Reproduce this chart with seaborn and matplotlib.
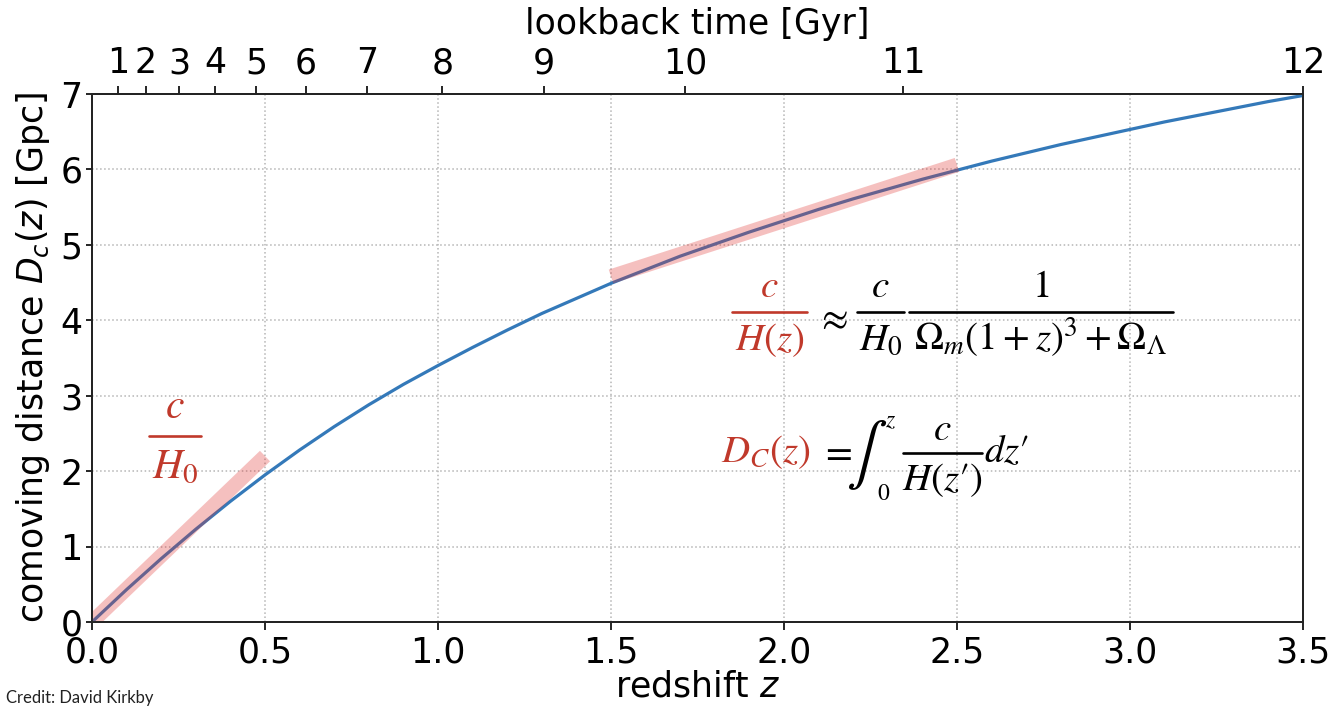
import numpy as np
import pandas as pd
import matplotlib
matplotlib.use("Agg")
import matplotlib.pyplot as plt
from matplotlib.lines import Line2D
import seaborn as sns

# ---- data ----
redshift = [0.0, 0.1, 0.2, 0.3, 0.4, 0.5, 0.6, 0.7, 0.8, 0.9, 1.0, 1.1, 1.2, 1.3, 1.4,
            1.5, 1.6, 1.7, 1.8, 1.9, 2.0, 2.1, 2.2, 2.3, 2.4, 2.5, 2.6, 2.7, 2.8, 2.9,
            3.0, 3.1, 3.2, 3.3, 3.4, 3.5]
comoving_gpc = [0.0, 0.43, 0.84, 1.23, 1.60, 1.95, 2.28, 2.59, 2.88, 3.15, 3.40, 3.64,
                3.87, 4.09, 4.29, 4.49, 4.67, 4.85, 5.01, 5.17, 5.32, 5.47, 5.61, 5.74,
                5.87, 5.99, 6.11, 6.22, 6.33, 6.43, 6.53, 6.63, 6.72, 6.81, 6.90, 6.98]
tangent_low_z = [0.0, 0.5]
tangent_low_d = [0.0, 2.2]
tangent_mid_z = [1.5, 2.5]
tangent_mid_d = [4.58, 6.06]
lookback_gyr = [1, 2, 3, 4, 5, 6, 7, 8, 9, 10, 11, 12]
lookback_tick_z = [0.075, 0.156, 0.252, 0.356, 0.474, 0.618, 0.795, 1.013, 1.305,
                   1.714, 2.344, 3.5]
z_ticks = [0.0, 0.5, 1.0, 1.5, 2.0, 2.5, 3.0, 3.5]
d_ticks = [0, 1, 2, 3, 4, 5, 6, 7]

sns.set_style("white")
plt.rcParams['font.family'] = ['DejaVu Sans']
plt.rcParams['text.color'] = 'black'
plt.rcParams['axes.labelcolor'] = 'black'
plt.rcParams['xtick.color'] = 'black'
plt.rcParams['ytick.color'] = 'black'

W, H = 1333, 707
fig = plt.figure(figsize=(W / 100, H / 100), dpi=100)
ax = fig.add_axes([92 / W, 1 - 622 / H, (1303 - 92) / W, (622 - 94) / H])

df = pd.DataFrame({"z": redshift, "D": comoving_gpc})
sns.lineplot(data=df, x="z", y="D", ax=ax, color="#3479b9", linewidth=2.3, zorder=3)
sns.lineplot(x=tangent_low_z, y=tangent_low_d, ax=ax, color="#e0302e", alpha=0.3,
             linewidth=10.5, solid_capstyle="butt", zorder=4)
sns.lineplot(x=tangent_mid_z, y=tangent_mid_d, ax=ax, color="#e0302e", alpha=0.3,
             linewidth=10.5, solid_capstyle="butt", zorder=4)

ax.set_xlim(0, 3.5)
ax.set_ylim(0, 7)
ax.set_xticks(z_ticks)
ax.set_xticklabels([f"{v:.1f}" for v in z_ticks])
ax.set_yticks(d_ticks)
ax.grid(True, linestyle=":", color="#b5b5b5", linewidth=1.1)
FS = 25
ax.tick_params(axis="x", direction="out", length=6, width=1.2, labelsize=FS, pad=4, bottom=True)
ax.tick_params(axis="y", direction="out", length=4, width=1.2, labelsize=FS, pad=3, left=True)
for s in ax.spines.values():
    s.set_visible(True)
    s.set_color("black")
    s.set_linewidth(1.3)
ax.set_xlabel("redshift $z$", fontsize=FS, labelpad=0)
ax.set_ylabel("comoving distance $D_c(z)$ [Gpc]", fontsize=FS, labelpad=6)

ax2 = ax.twiny()
ax2.set_xlim(0, 3.5)
ax2.set_xticks(lookback_tick_z)
ax2.set_xticklabels([str(v) for v in lookback_gyr])
ax2.tick_params(axis="x", direction="out", length=6, width=1.2, labelsize=FS, pad=4, top=True)
ax2.grid(False)
for s in ax2.spines.values():
    s.set_linewidth(1.3)
ax2.set_xlabel("lookback time [Gyr]", fontsize=FS, labelpad=9)

# ---- annotations (pixel coordinates, y from top) ----
RED = "#c0392b"


def ftxt(x, y, s, color="black", fs=28, **kw):
    fig.text(x / W, 1 - y / H, s, math_fontfamily="stix", color=color, fontsize=fs, **kw)


def frac(xl, xr, ybar, num, den, color="black", fs=28, dnum=15, dden=38):
    fig.add_artist(Line2D([xl / W, xr / W], [1 - ybar / H] * 2, color=color, lw=1.9))
    xc = (xl + xr) / 2
    ftxt(xc, ybar - dnum, num, color, fs, ha="center", va="baseline")
    ftxt(xc, ybar + dden, den, color, fs, ha="center", va="baseline")


# c / H0 near the origin
frac(149, 201, 436, r"$c$", r"$H_0$", RED, 30, 18, 42)

# c/H(z) ~ c/H0 * 1/(...)
frac(732, 807, 312, r"$c$", r"$H(z)$", RED)
ftxt(832, 318, r"$\approx$", "black", 28, ha="center", va="center")
frac(857, 904, 312, r"$c$", r"$H_0$")
frac(909, 1173, 312, r"$1$", r"$\Omega_m(1+z)^3+\Omega_\Lambda$")

# D_C(z) = int c/H dz'
ftxt(810, 462, r"$D_C(z)$", RED, 28, ha="right", va="baseline")
ftxt(836, 452, r"$=$", "black", 28, ha="center", va="center")
ftxt(867, 455, r"$\int$", "black", 44, ha="center", va="center")
ftxt(891, 420, r"$z$", "black", 17, ha="center", va="center")
ftxt(884, 493, r"$0$", "black", 17, ha="center", va="center")
frac(903, 982, 453, r"$c$", r"$H(z\prime)$", "black", 28, 13, 37)
ftxt(984, 462, r"$dz\prime$", "black", 28, ha="left", va="baseline")

fig.text(6 / W, 0.002, "Credit: David Kirkby", fontsize=12, family="Lato",
         color="#222222", ha="left", va="bottom")

fig.savefig("out.png", dpi=100)
